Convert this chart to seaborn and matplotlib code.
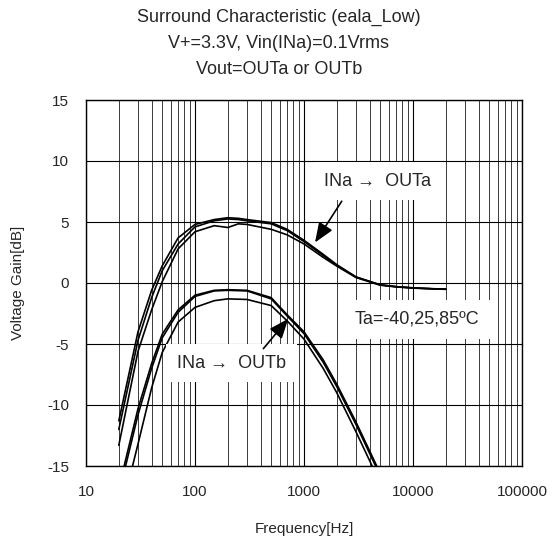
import pandas as pd
import seaborn as sns
import matplotlib.pyplot as plt
from matplotlib.ticker import LogLocator, FixedLocator, NullFormatter

# frequencies [Hz] and gains [dB]
freq_a = [20, 30, 40, 50, 70, 100, 150, 200, 250, 300, 500, 700, 1000, 1500, 2000, 3000, 5000, 7000, 10000, 15000, 20000]
outa_1 = [-11.3, -4.0, -0.6, 1.4, 3.7, 4.8, 5.2, 5.35, 5.3, 5.2, 4.95, 4.4, 3.5, 2.35, 1.5, 0.5, -0.15, -0.3, -0.4, -0.47, -0.5]
outa_2 = [-12.0, -4.7, -1.2, 1.0, 3.2, 4.6, 5.1, 5.25, 5.2, 5.1, 4.85, 4.3, 3.4, 2.25, 1.45, 0.48, -0.15, -0.3, -0.4, -0.47, -0.5]
outa_3 = [-13.3, -5.6, -2.2, 0.1, 2.8, 4.2, 4.7, 4.55, 4.85, 4.8, 4.4, 3.95, 3.2, 2.1, 1.38, 0.45, -0.18, -0.32, -0.42, -0.48, -0.52]

freq_b = [20, 30, 40, 50, 70, 100, 150, 200, 300, 500, 700, 1000, 1500, 2000, 3000, 5000, 7000]
outb_1 = [-16.8, -10.3, -6.6, -4.2, -2.2, -1.0, -0.6, -0.55, -0.6, -1.2, -2.6, -4.0, -6.3, -8.3, -11.4, -15.6, -18.5]
outb_2 = [-17.3, -10.8, -7.0, -4.5, -2.4, -1.1, -0.65, -0.6, -0.65, -1.3, -2.7, -4.15, -6.5, -8.5, -11.6, -15.8, -18.7]
outb_3 = [-19.5, -13.2, -8.6, -5.7, -3.2, -2.0, -1.45, -1.3, -1.35, -1.85, -3.1, -4.6, -7.0, -9.0, -12.2, -16.4, -19.3]

x_ticks = [10, 100, 1000, 10000, 100000]
x_labels = ['10', '100', '1000', '10000', '100000']
y_ticks = [-15, -10, -5, 0, 5, 10, 15]

title_lines = ['Surround Characteristic (eala_Low)',
               'V+=3.3V, Vin(INa)=0.1Vrms',
               'Vout=OUTa or OUTb']

sns.set_style("white")
plt.rcParams['font.family'] = ['Liberation Sans', 'DejaVu Sans']

fig = plt.figure(figsize=(5.58, 5.41), dpi=100)
ax = fig.add_axes([86 / 558, 75 / 541, 436 / 558, 366 / 541])

curves = []
for name, g in [('a1', outa_1), ('a2', outa_2), ('a3', outa_3)]:
    curves.append(pd.DataFrame({'freq': freq_a, 'gain': g, 'curve': name}))
for name, g in [('b1', outb_1), ('b2', outb_2), ('b3', outb_3)]:
    curves.append(pd.DataFrame({'freq': freq_b, 'gain': g, 'curve': name}))
df = pd.concat(curves)

sns.lineplot(data=df, x='freq', y='gain', units='curve', estimator=None,
             color='black', lw=1.2, ax=ax, legend=False, zorder=3)

ax.set_xscale('log')
ax.set_xlim(10, 100000)
ax.set_ylim(-15, 15)
ax.xaxis.set_major_locator(FixedLocator(x_ticks))
ax.set_xticklabels(x_labels)
ax.xaxis.set_minor_locator(LogLocator(base=10, subs=range(2, 10)))
ax.xaxis.set_minor_formatter(NullFormatter())
ax.set_yticks(y_ticks)
ax.set_yticklabels([str(v) for v in y_ticks])

ax.grid(which='major', axis='both', color='black', lw=0.8)
ax.grid(which='minor', axis='x', color='#3a3a3a', lw=0.7)
ax.tick_params(which='both', length=0)
ax.tick_params(axis='x', pad=14, labelsize=11)
ax.tick_params(axis='y', pad=12, labelsize=11)
for s in ax.spines.values():
    s.set_color('black')
    s.set_linewidth(1.0)

ax.set_xlabel('Frequency[Hz]', fontsize=11, labelpad=16)
ax.set_ylabel('Voltage Gain[dB]', fontsize=11, labelpad=16)

for i, line in enumerate(title_lines):
    fig.text(0.5, 1 - (17 + 26.5 * i) / 541, line, ha='center', va='center', fontsize=13)

box = dict(boxstyle='square,pad=0.6', fc='white', ec='none')
arrow = dict(arrowstyle='-|>,head_length=0.8,head_width=0.32', color='black', lw=1.2,
             shrinkA=0, shrinkB=0, mutation_scale=15)

ax.text(4770, 8.35, 'INa \u2192  OUTa', ha='center', va='center', fontsize=13, bbox=box, zorder=4)
ax.annotate('', xy=(1262, 3.32), xytext=(2218, 6.7), arrowprops=arrow, zorder=5)

ax.text(216, -6.56, 'INa \u2192  OUTb', ha='center', va='center', fontsize=13, bbox=box, zorder=4)
ax.annotate('', xy=(718, -2.93), xytext=(424, -5.38), arrowprops=arrow, zorder=5)

ax.text(2940, -2.97, 'Ta=-40,25,85\u00baC', ha='left', va='center', fontsize=13, bbox=box, zorder=4)

plt.savefig('out.png', dpi=100, facecolor='white')
